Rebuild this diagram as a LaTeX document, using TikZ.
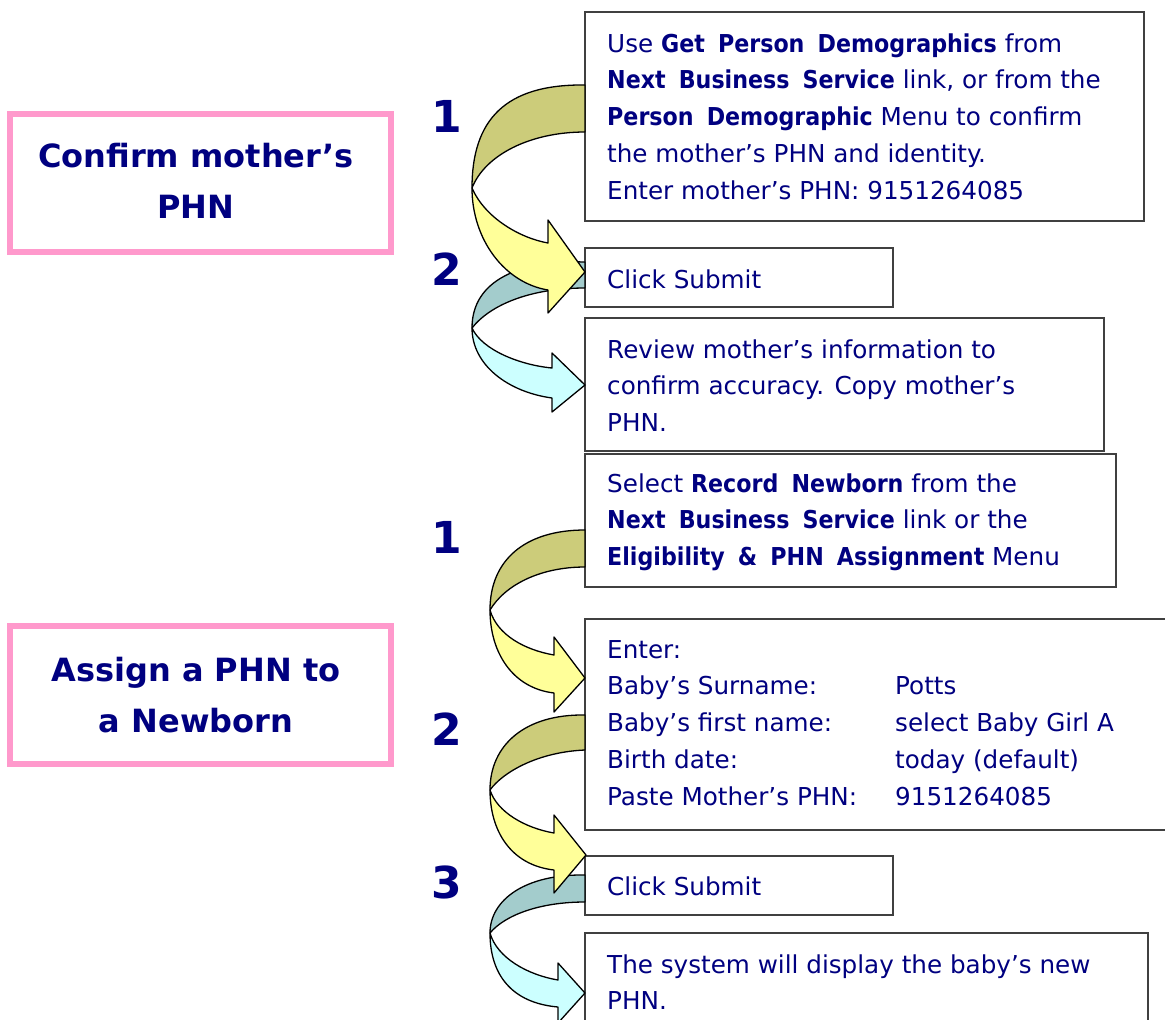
\documentclass[tikz,border=0pt]{standalone}
\usepackage{fontspec}
\setmainfont[BoldFeatures={FakeStretch=0.9,WordSpace=1.7}]{DejaVu Sans}
\newfontfamily\headfont[Ligatures=TeX]{DejaVu Sans}
\definecolor{navytext}{RGB}{0,0,128}
\definecolor{pinkline}{RGB}{255,153,204}
\definecolor{boxline}{RGB}{64,64,64}
\definecolor{backyellow}{RGB}{204,204,122}
\definecolor{frontyellow}{RGB}{255,255,153}
\definecolor{backcyan}{RGB}{163,204,204}
\definecolor{frontcyan}{RGB}{204,255,255}
\tikzset{
  stepbox/.style={draw=boxline, line width=2pt, fill=white, inner sep=0pt, outer sep=0pt, anchor=north west},
  pinkbox/.style={draw=pinkline, line width=6pt, fill=white, inner sep=0pt, outer sep=0pt, anchor=north west},
  txt/.style={anchor=base west, inner sep=0pt, text=navytext, font=\fontsize{24.65}{36.8}\selectfont},
  head/.style={anchor=base, inner sep=0pt, text=navytext, font=\headfont\bfseries\fontsize{32}{51.5}\selectfont},
  num/.style={anchor=base, inner sep=0pt, text=navytext, font=\headfont\bfseries\fontsize{44}{44}\selectfont},
  ribbon/.style={draw=black, line width=1.3pt, line join=round},
}
\begin{document}
\begin{tikzpicture}[x=1pt,y=-1pt]
\clip (0,0) rectangle (1165,1020);
\fill[white] (0,0) rectangle (1165,1020);

% pink heading boxes
\node[pinkbox, minimum width=381pt, minimum height=138pt] (P1) at (10,114) {};
\node[pinkbox, minimum width=381pt, minimum height=138pt] (P2) at (10,626) {};
\node[head] (h1) at (196,167) {\vtop{\hbox to 0pt{\hss Confirm mother’s\hss}\hbox to 0pt{\hss PHN\hss}}};
\node[head] (h2) at (196,681) {\vtop{\hbox to 0pt{\hss Assign a PHN to\hss}\hbox to 0pt{\hss a Newborn\hss}}};

% step boxes
\node[stepbox, minimum width=559pt, minimum height=209pt] (A) at (585,12) {};
\node[stepbox, minimum width=308pt, minimum height=59pt] (B) at (585,248) {};
\node[stepbox, minimum width=519pt, minimum height=133pt] (C) at (585,318) {};
\node[stepbox, minimum width=531pt, minimum height=133pt] (D) at (585,454) {};
\node[stepbox, minimum width=620pt, minimum height=211pt] (E) at (585,619) {};
\node[stepbox, minimum width=308pt, minimum height=59pt] (F) at (585,856) {};
\node[stepbox, minimum width=563pt, minimum height=120pt] (G) at (585,933) {};

% texts
\node[txt] (tA) at (607,52) {\vtop{%
  \hbox{Use \textbf{Get Person Demographics} from}%
  \hbox{\textbf{Next Business Service} link, or from the}%
  \hbox{\textbf{Person Demographic} Menu to confirm}%
  \hbox{the mother’s PHN and identity.}%
  \hbox{Enter mother’s PHN: 9151264085}}};
\node[txt] (tB) at (607,288) {Click Submit};
\node[txt] (tC) at (607,358) {\vtop{%
  \hbox{Review mother’s information to}%
  \hbox{confirm accuracy. Copy mother’s}%
  \hbox{PHN.}}};
\node[txt] (tD) at (607,492) {\vtop{%
  \hbox{Select \textbf{Record Newborn} from the}%
  \hbox{\textbf{Next Business Service} link or the}%
  \hbox{\textbf{Eligibility \& PHN Assignment} Menu}}};
\node[txt] (tE) at (607,658) {\vtop{%
  \hbox{Enter:}%
  \hbox{\makebox[288pt][l]{Baby’s Surname:}Potts}%
  \hbox{\makebox[288pt][l]{Baby’s first name:}select Baby Girl A}%
  \hbox{\makebox[288pt][l]{Birth date:}today (default)}%
  \hbox{\makebox[288pt][l]{Paste Mother’s PHN:}9151264085}}};
\node[txt] (tF) at (607,895) {Click Submit};
\node[txt] (tG) at (607,973) {\vtop{%
  \hbox{The system will display the baby’s new}%
  \hbox{PHN.}}};

% step numbers
\node[num] (n1) at (447,132) {1};
\node[num] (n2) at (447,285) {2};
\node[num] (n3) at (447,553) {1};
\node[num] (n4) at (447,745) {2};
\node[num] (n5) at (447,898) {3};

% arrow B -> C (teal)
\path[ribbon, fill=backcyan] (585,262) .. controls (520,260) and (472,280) .. (472,328)
  .. controls (490,305) and (530,288) .. (585,288) -- cycle;
\path[ribbon, fill=frontcyan] (472,328) .. controls (472,365) and (508,392) .. (552,398)
  -- (552,412) -- (585,385) -- (552,353) -- (552,368)
  .. controls (520,365) and (482,350) .. (472,328) -- cycle;

% arrow A -> B (yellow)
\path[ribbon, fill=backyellow] (585,85) .. controls (505,84) and (472,120) .. (472,188)
  .. controls (485,155) and (530,132) .. (585,132) -- cycle;
\path[ribbon, fill=frontyellow] (472,188) .. controls (472,240) and (505,283) .. (548,290)
  -- (548,313) -- (585,272) -- (548,220) -- (548,243)
  .. controls (520,238) and (485,218) .. (472,188) -- cycle;

% arrow D -> E (yellow)
\path[ribbon, fill=backyellow] (585,530) .. controls (525,530) and (490,560) .. (490,610)
  .. controls (505,585) and (540,567) .. (585,567) -- cycle;
\path[ribbon, fill=frontyellow] (490,610) .. controls (490,652) and (512,688) .. (554,693)
  -- (554,712) -- (585,678) -- (554,637) -- (554,655)
  .. controls (525,650) and (497,635) .. (490,610) -- cycle;

% arrow F -> G (teal)
\path[ribbon, fill=backcyan] (585,875) .. controls (525,874) and (490,900) .. (490,933)
  .. controls (505,915) and (540,902) .. (585,902) -- cycle;
\path[ribbon, fill=frontcyan] (490,933) .. controls (490,975) and (512,1003) .. (558,1007)
  -- (558,1023) -- (585,993) -- (558,963) -- (558,980)
  .. controls (528,975) and (497,958) .. (490,933) -- cycle;

% arrow E -> F (yellow)
\path[ribbon, fill=backyellow] (585,715) .. controls (525,714) and (490,745) .. (490,790)
  .. controls (503,772) and (538,752) .. (585,750) -- cycle;
\path[ribbon, fill=frontyellow] (490,790) .. controls (490,830) and (510,865) .. (554,870)
  -- (554,893) -- (586,855) -- (554,815) -- (554,833)
  .. controls (525,828) and (497,812) .. (490,790) -- cycle;
\end{tikzpicture}
\end{document}
